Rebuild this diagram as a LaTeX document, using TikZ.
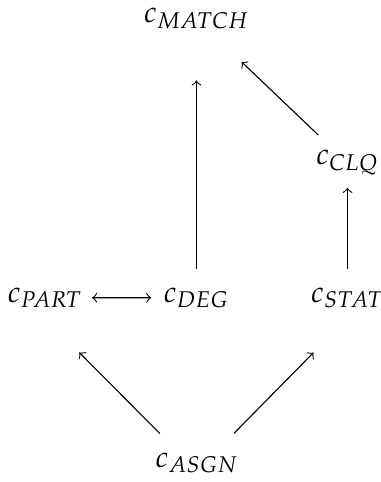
\documentclass[tikz,border=0pt]{standalone}
\usepackage{mathpazo}

\begin{document}
\begin{tikzpicture}[x=0.0127cm, y=-0.0127cm,
  every node/.style={font=\fontsize{10.8}{13}\selectfont}]
\useasboundingbox (0,0) rectangle (380,482);

% top
\node[anchor=base] at (196.5, 23)
(match) {$c_{MATCH}$};

\node[anchor=base] at (347.5, 165)
(clq) {$c_{CLQ}$};

% middle row
\node[anchor=base] at (45, 302)
(part) {$c_{PART}$};

\node[anchor=base] at (196.5, 302)
(deg) {$c_{DEG}$};

\node[anchor=base] at (347.5, 302)
(stat) {$c_{STAT}$};

% bottom
\node[anchor=base] at (197, 467)
(asgn) {$c_{ASGN}$};

\draw[->]
  (deg)  edge[shorten >=15pt, shorten <=3pt] (match)
  (clq)  edge[shorten >=12pt, shorten <=3pt] (match)
  (stat) edge[shorten >=1pt, shorten <=3pt] (clq)
;
\draw[->, shorten <=19pt, shorten >=17.5pt]
  ([yshift=-1.4pt]asgn.base) edge ([yshift=-5.8pt]part.base)
  ([yshift=-1.4pt]asgn.base) edge ([yshift=-5.8pt]stat.base)
;
\draw[<->]
  (part) edge[shorten >=1pt] (deg)
;
\end{tikzpicture}
\end{document}
